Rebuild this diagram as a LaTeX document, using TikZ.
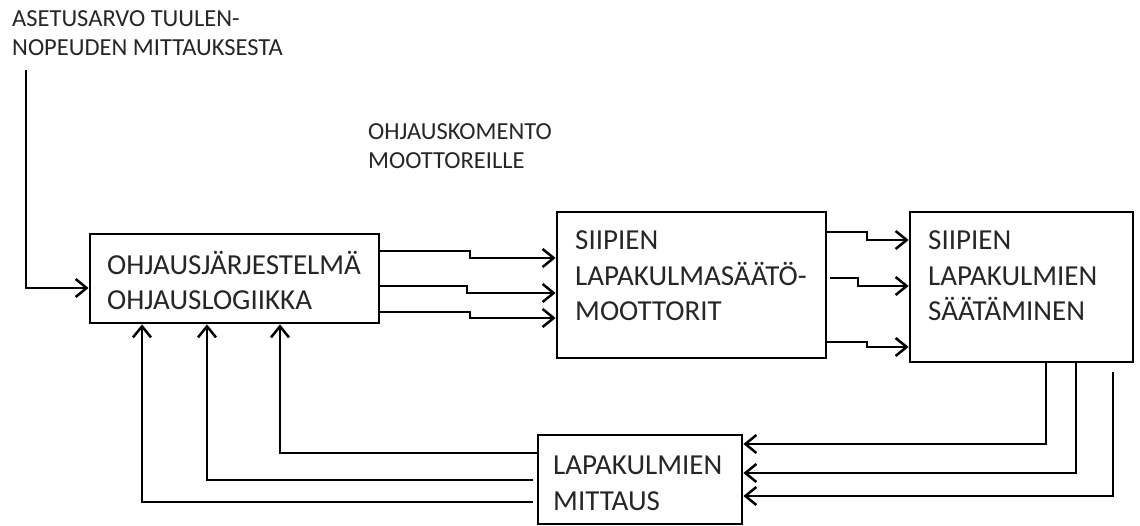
\documentclass[tikz,border=0pt]{standalone}
\usepackage{fontspec}
\setmainfont{Carlito}
\usetikzlibrary{arrows.meta}
\begin{document}
\begin{tikzpicture}[x=1pt,y=-1pt,
  box/.style={draw, line width=2.8pt, rectangle, inner sep=0pt},
  btxt/.style={anchor=west, align=left, inner sep=0pt, font=\fontsize{29}{35.5}\selectfont, text=black!85},
  stxt/.style={anchor=west, align=left, inner sep=0pt, font=\fontsize{24.5}{29.5}\selectfont, text=black!85},
  conn/.style={line width=2.5pt, -{Straight Barb[length=11pt,width=18pt]}},
  plain/.style={line width=2.5pt}]
\useasboundingbox (0,0) rectangle (1140,526);

% boxes
\node[box, minimum width=289pt, minimum height=89pt] (ohj) at (234.5,278.5) {};
\node[box, minimum width=269pt, minimum height=146pt] (sm) at (691.5,285) {};
\node[box, minimum width=223pt, minimum height=150pt] (sl) at (1021.5,287) {};
\node[box, minimum width=204pt, minimum height=89pt] (mt) at (640,479.5) {};

% box texts
\node[btxt] (ohjt) at (107,280.5) {OHJAUSJÄRJESTELMÄ\\OHJAUSLOGIIKKA};
\node[btxt] (smt) at (575,276) {SIIPIEN\\LAPAKULMASÄÄTÖ-\\MOOTTORIT};
\node[btxt] (slt) at (928,276) {SIIPIEN\\LAPAKULMIEN\\SÄÄTÄMINEN};
\node[btxt] (mtt) at (553,483.5) {LAPAKULMIEN\\MITTAUS};

% free texts
\node[stxt] (aset) at (12,33) {ASETUSARVO TUULEN-\\NOPEUDEN MITTAUKSESTA};
\node[stxt] (komento) at (368,146) {OHJAUSKOMENTO\\MOOTTOREILLE};

% input
\coordinate (in) at (26,70);
\draw[conn] (in) |- (ohj.west |- 0,288);

% control commands to motors
\draw[conn] (ohj.east |- 0,251) -- (470,251) -- (470,258) -- (sm.west |- 0,258);
\draw[conn] (ohj.east |- 0,286) -- (467,286) -- (467,293) -- (sm.west |- 0,293);
\draw[conn] (ohj.east |- 0,312) -- (470,312) -- (470,318) -- (sm.west |- 0,318);

% motors to blade adjustment
\draw[conn] (sm.east |- 0,232) -- (867,232) -- (867,240) -- (sl.west |- 0,240);
\draw[conn] ([xshift=3pt]sm.east |- 0,278) -- (858,278) -- (858,286) -- (sl.west |- 0,286);
\draw[conn] (sm.east |- 0,342) -- (867,342) -- (867,347) -- (sl.west |- 0,347);

% blade adjustment to measurement
\draw[conn] (sl.south -| 1046,0) |- (mt.east |- 0,444);
\draw[conn] (sl.south -| 1076,0) |- (mt.east |- 0,473);
\coordinate (s3) at (1113,372);
\draw[conn] (s3) |- (mt.east |- 0,496);

% measurement feedback to control system
\draw[conn] (mt.west |- 0,453) -| (ohj.south -| 280,0);
\coordinate (f2) at (533,480);
\coordinate (f3) at (533,502);
\draw[conn] (f2) -| (ohj.south -| 207,0);
\draw[conn] (f3) -| (ohj.south -| 142,0);
\end{tikzpicture}
\end{document}
